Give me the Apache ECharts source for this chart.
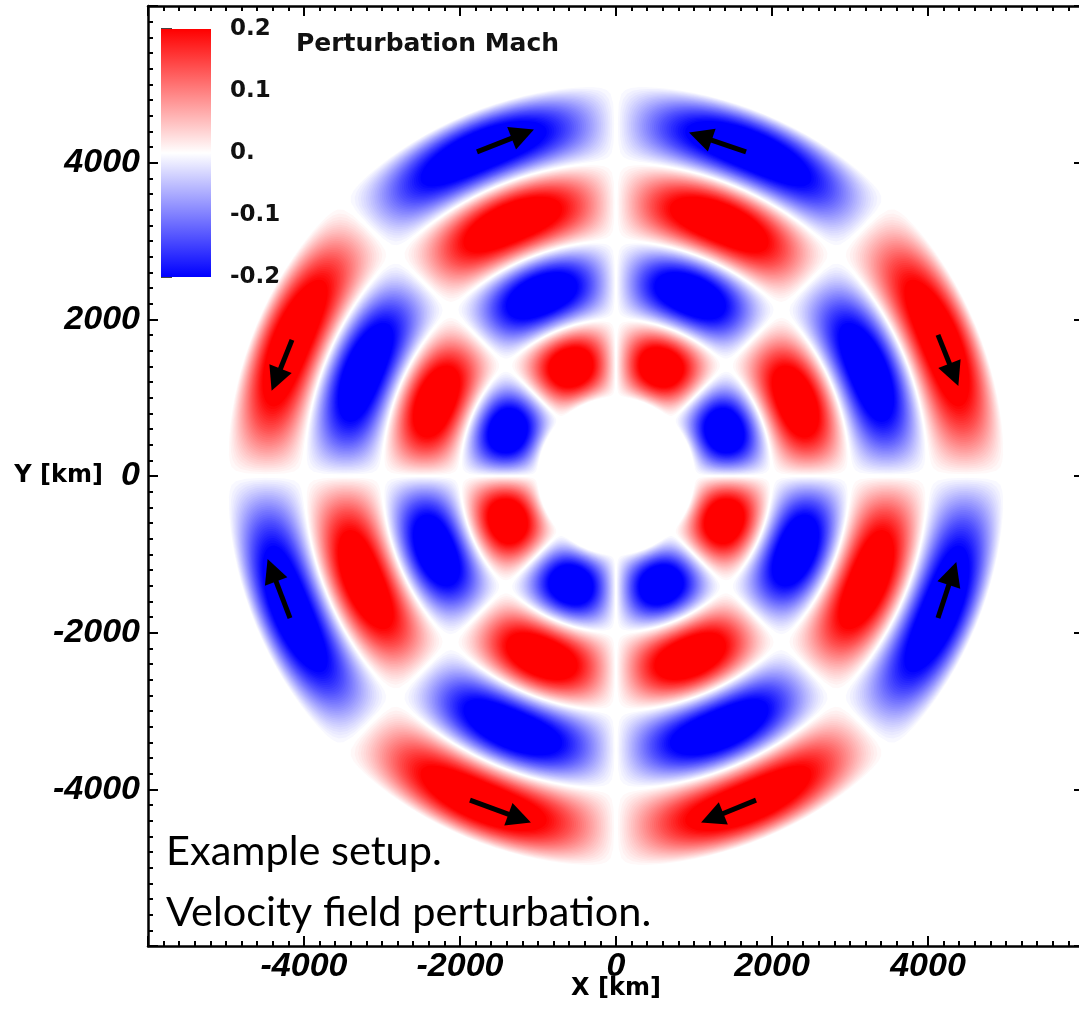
<!DOCTYPE html>
<html>
<head>
<meta charset="utf-8">
<title>Perturbation Mach</title>
<script src="https://cdn.jsdelivr.net/npm/echarts@6/dist/echarts.min.js"></script>
<style>
  html, body { margin: 0; padding: 0; background: #fff; }
  #chart { width: 1079px; height: 1015px; }
</style>
</head>
<body>
<div id="chart"></div>
<script>
"use strict";

// ring radii (km) and sector edges (deg, counter-clockwise from +X)
var ringEdges = [1000, 2000, 3000, 4000, 5000];
var sectorEdges = [0, 45, 90, 135, 180, 225, 270, 315, 360];

// peak perturbation Mach of every cell, inner ring -> outer ring
var ring1Peak = [-0.28, 0.28, 0.28, -0.28, 0.28, -0.28, -0.28, 0.28];
var ring2Peak = [0.28, -0.28, -0.28, 0.28, -0.28, 0.28, 0.28, -0.28];
var ring3Peak = [-0.28, 0.28, 0.28, -0.28, 0.28, -0.28, -0.28, 0.28];
var ring4Peak = [0.28, -0.28, -0.28, 0.28, -0.28, 0.28, 0.28, -0.28];
var ringPeaks = [ring1Peak, ring2Peak, ring3Peak, ring4Peak];

// velocity arrows (km): tail and head
var arrowTail = [[-1782, 4138], [1667, 4138], [-4154, 1737], [4128, 1801],
                 [-4179, -1814], [4128, -1814], [-1872, -4138], [1795, -4138]];
var arrowHead = [[-1195, 4368], [1082, 4336], [-4358, 1229], [4332, 1292],
                 [-4412, -1204], [4315, -1245], [-1235, -4370], [1233, -4366]];

// colour bar
var cbarMin = -0.2;
var cbarMax = 0.2;
var cbarColors = ['#ff0000', '#ffffff', '#0000ff'];   // top, middle, bottom

var chart = echarts.init(document.getElementById('chart'));

var cells = [];
for (var i = 0; i < ringPeaks.length; i++) {
  for (var j = 0; j < ringPeaks[i].length; j++) {
    cells.push([ringEdges[i], ringEdges[i + 1], sectorEdges[j], sectorEdges[j + 1], ringPeaks[i][j]]);
  }
}

var arrows = arrowTail.map(function(t, k) {
  return { coords: [t, arrowHead[k]] };
});

var LEVELS = 34;
function levelColor(v) {
  var f = Math.min(Math.abs(v) / cbarMax, 1);
  var c = Math.round(255 * (1 - f));
  return v > 0 ? 'rgb(255,' + c + ',' + c + ')' : 'rgb(' + c + ',' + c + ',255)';
}

// each cell fades from its peak to zero at the cell borders
function renderCell(params, api) {
  var r0 = api.value(0), r1 = api.value(1);
  var a0 = api.value(2), a1 = api.value(3);
  var peak = api.value(4);
  var amp = Math.abs(peak), sign = peak > 0 ? 1 : -1;
  var M = 30;
  var children = [];
  for (var k = 1; k <= LEVELS; k++) {
    var level = k / LEVELS * cbarMax;
    var q = level / amp;
    if (q >= 1) break;
    var vMin = Math.asin(q) / Math.PI;
    var lower = [], upper = [];
    for (var n = 0; n <= M; n++) {
      var v = vMin + (1 - 2 * vMin) * (1 - Math.cos(Math.PI * n / M)) / 2;
      var s = Math.min(1, q / Math.sin(Math.PI * v));
      var u = Math.asin(s) / Math.PI;
      var th = (a0 + v * (a1 - a0)) * Math.PI / 180;
      var ra = r0 + u * (r1 - r0), rb = r1 - u * (r1 - r0);
      lower.push(api.coord([ra * Math.cos(th), ra * Math.sin(th)]));
      upper.push(api.coord([rb * Math.cos(th), rb * Math.sin(th)]));
    }
    children.push({
      type: 'polygon',
      shape: { points: lower.concat(upper.reverse()) },
      style: { fill: levelColor(sign * level) }
    });
  }
  return { type: 'group', children: children };
}

function renderBar(params, api) {
  var p0 = api.coord([api.value(0), api.value(3)]);
  var p1 = api.coord([api.value(2), api.value(1)]);
  return {
    type: 'rect',
    shape: { x: p0[0], y: p0[1], width: p1[0] - p0[0], height: p1[1] - p0[1] },
    style: {
      fill: new echarts.graphic.LinearGradient(0, 0, 0, 1, [
        { offset: 0, color: cbarColors[0] },
        { offset: 0.5, color: cbarColors[1] },
        { offset: 1, color: cbarColors[2] }
      ])
    }
  };
}

var tickFont = {
  fontFamily: 'Liberation Sans', fontWeight: 'bold', fontStyle: 'italic',
  fontSize: 34, color: '#000',
  formatter: function(v) { return String(v); }
};
var nameFont = { fontFamily: 'DejaVu Sans', fontWeight: 'bold', fontSize: 24, color: '#000' };
var frameLine = { show: true, onZero: false, lineStyle: { color: '#000', width: 2.5 } };
var frameTick = { show: true, inside: true, length: 10, lineStyle: { color: '#000', width: 2 } };
var frameMinor = { show: true, splitNumber: 10, length: 5, lineStyle: { color: '#000', width: 2 } };

var option = {
  animation: false,
  backgroundColor: '#fff',
  title: [{
    text: 'Perturbation Mach',
    left: 291, top: 27,
    textStyle: { fontFamily: 'DejaVu Sans', fontWeight: 'bold', fontSize: 25, color: '#111' }
  }, {
    text: 'Example setup.\nVelocity field perturbation.',
    left: 161, top: 816,
    textStyle: { fontFamily: 'Lato', fontWeight: 'normal', fontSize: 41.5, lineHeight: 61, color: '#000' }
  }],
  grid: [
    { left: 148, top: 6, width: 936, height: 940, outerBoundsMode: 'none' },
    { left: 161, top: 29, width: 50, height: 248, outerBoundsMode: 'none' }
  ],
  xAxis: [{
    gridIndex: 0, type: 'value', min: -6000, max: 6000, interval: 2000,
    name: 'X [km]', nameLocation: 'middle', nameGap: 31, nameMoveOverlap: false,
    nameTextStyle: nameFont,
    axisLine: frameLine, axisTick: frameTick, minorTick: frameMinor,
    splitLine: { show: false },
    axisLabel: Object.assign({ margin: 4, showMinLabel: false, showMaxLabel: false }, tickFont)
  }, {
    gridIndex: 0, type: 'value', position: 'top', min: -6000, max: 6000, interval: 2000,
    axisLine: frameLine, axisTick: frameTick, minorTick: frameMinor,
    splitLine: { show: false }, axisLabel: { show: false }
  }, {
    gridIndex: 1, type: 'value', min: 0, max: 1, show: false
  }],
  yAxis: [{
    gridIndex: 0, type: 'value', min: -6000, max: 6000, interval: 2000,
    name: 'Y [km]', nameLocation: 'middle', nameRotate: 0, nameGap: 45, nameMoveOverlap: false,
    nameTextStyle: nameFont,
    axisLine: frameLine, axisTick: frameTick, minorTick: frameMinor,
    splitLine: { show: false },
    axisLabel: Object.assign({ margin: 8, showMinLabel: false, showMaxLabel: false }, tickFont)
  }, {
    gridIndex: 0, type: 'value', position: 'right', min: -6000, max: 6000, interval: 2000,
    axisLine: frameLine, axisTick: frameTick, minorTick: frameMinor,
    splitLine: { show: false }, axisLabel: { show: false }
  }, {
    gridIndex: 1, type: 'value', position: 'right', min: cbarMin, max: cbarMax, interval: 0.1,
    axisLine: { show: false },
    axisTick: { show: true, length: 11, lineStyle: { color: '#444', width: 2 } },
    splitLine: { show: false },
    axisLabel: {
      margin: 19, fontFamily: 'DejaVu Sans', fontWeight: 'bold', fontSize: 23, color: '#111',
      formatter: function(v) { return Math.abs(v) < 1e-9 ? '0.' : v.toFixed(1); }
    }
  }],
  series: [{
    type: 'custom',
    name: 'field',
    xAxisIndex: 0, yAxisIndex: 0,
    silent: true,
    z: 1,
    encode: { x: 0, y: 1 },
    renderItem: renderCell,
    data: cells
  }, {
    type: 'lines',
    name: 'arrows',
    coordinateSystem: 'cartesian2d',
    xAxisIndex: 0, yAxisIndex: 0,
    silent: true,
    z: 3,
    symbol: ['none', 'triangle'],
    symbolSize: [22, 24],
    lineStyle: { color: '#000', width: 5, opacity: 1 },
    data: arrows
  }, {
    type: 'custom',
    name: 'colorbar',
    xAxisIndex: 2, yAxisIndex: 2,
    silent: true,
    z: 4,
    renderItem: renderBar,
    data: [[0, cbarMin, 1, cbarMax]]
  }]
};

chart.setOption(option);
</script>
</body>
</html>
